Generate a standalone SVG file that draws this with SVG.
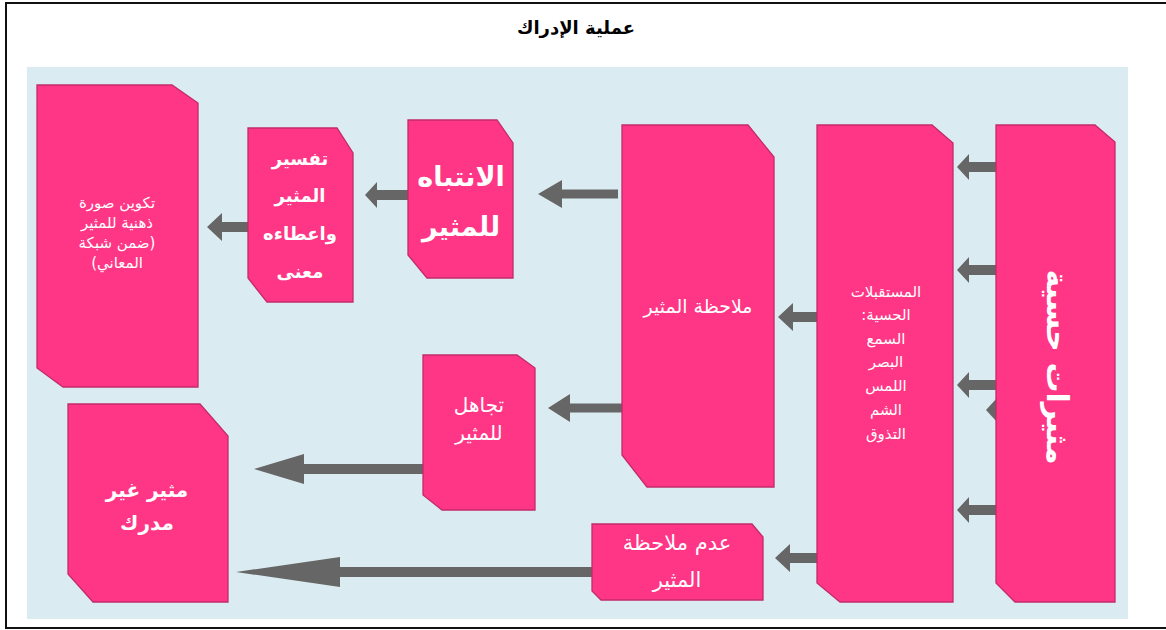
<svg xmlns="http://www.w3.org/2000/svg" width="1166" height="630" viewBox="0 0 1166 630">
<style>
.node{fill:#FF3585;stroke:#C42A6C;stroke-width:1.3}
.arr{fill:#666666}
.t{fill:#ffffff;font-family:"DejaVu Sans",sans-serif;text-anchor:middle;direction:rtl}
.b{font-weight:bold}
.title{fill:#000000;font-family:"DejaVu Sans",sans-serif;font-weight:bold;font-size:18px;text-anchor:middle;direction:rtl}
</style>
<rect x="0" y="0" width="1166" height="630" fill="#ffffff"/>
<path d="M6,629 L6,3 L1166,3 M6,628 L1166,628" fill="none" stroke="#111111" stroke-width="2"/>
<rect x="27" y="67" width="1101" height="552" fill="#DAECF2"/>
<text class="title" direction="rtl" x="576" y="34">عملية الإدراك</text>
<g id="connectors">
<polygon class="arr" points="986,410 997,398 997,422"/>
<polygon class="arr" points="957,167 969,154 969,162 996,162 996,172 969,172 969,180"/>
<polygon class="arr" points="957,270 969,257 969,265 996,265 996,275 969,275 969,283"/>
<polygon class="arr" points="957,385 969,372 969,380 996,380 996,390 969,390 969,398"/>
<polygon class="arr" points="957,510 969,497 969,505 996,505 996,515 969,515 969,523"/>
<polygon class="arr" points="778,317 793,303 793,312 817,312 817,322 793,322 793,331"/>
<polygon class="arr" points="775,558 790,544 790,553 817,553 817,563 790,563 790,572"/>
<polygon class="arr" points="538,194 562,180 562,189.5 618,189.5 618,198.5 562,198.5 562,208"/>
<polygon class="arr" points="548,408 570,394 570,403.5 622,403.5 622,412.5 570,412.5 570,422"/>
<polygon class="arr" points="365,195 377,182 377,190 408,190 408,200 377,200 377,208"/>
<polygon class="arr" points="207,227 222,213 222,222 248,222 248,232 222,232 222,241"/>
<polygon class="arr" points="254,469 304,454 304,464 423,464 423,474 304,474 304,484"/>
<polygon class="arr" points="236,572 340,557 340,567 592,567 592,577 340,577 340,587"/>
</g>
<g id="node-image">
<polygon class="node" points="37,85 172,85 198,103 198,387 63,387 37,368"/>
<text class="t" font-size="15" direction="rtl"><tspan x="117" y="208">تكوين صورة</tspan><tspan x="117" y="228">ذهنية للمثير</tspan><tspan x="117" y="248">(ضمن شبكة</tspan><tspan x="117" y="268">المعاني)</tspan></text>
</g>
<g id="node-interpret">
<polygon class="node" points="248,128 337,128 353,153 353,302 267,302 248,278"/>
<text class="t b" font-size="18" direction="rtl"><tspan x="300" y="165">تفسير</tspan><tspan x="300" y="202">المثير</tspan><tspan x="300" y="240">واعطاءه</tspan><tspan x="300" y="278">معنى</tspan></text>
</g>
<g id="node-attention">
<polygon class="node" points="408,120 497,120 513,143 513,278 427,278 408,255"/>
<text class="t b" font-size="27" direction="rtl"><tspan x="461" y="186">الانتباه</tspan><tspan x="461" y="236">للمثير</tspan></text>
</g>
<g id="node-observe">
<polygon class="node" points="622,125 748,125 774,157 774,487 647,487 622,455"/>
<text class="t" font-size="19" direction="rtl" x="698" y="313">ملاحظة المثير</text>
</g>
<g id="node-receptors">
<polygon class="node" points="817,125 932,125 953,143 953,602 840,602 817,583"/>
<text class="t" font-size="15" direction="rtl"><tspan x="886" y="297">المستقبلات</tspan><tspan x="886" y="320">الحسية:</tspan><tspan x="886" y="344">السمع</tspan><tspan x="886" y="367">البصر</tspan><tspan x="886" y="391">اللمس</tspan><tspan x="886" y="415">الشم</tspan><tspan x="886" y="439">التذوق</tspan></text>
</g>
<g id="node-stimuli">
<polygon class="node" points="996,125 1095,125 1115,142 1115,602 1015,602 996,583"/>
<text class="t b" font-size="30" direction="rtl" transform="translate(1057,367) rotate(90)" x="0" y="10">مثيرات حسية</text>
</g>
<g id="node-ignore">
<polygon class="node" points="423,355 517,355 535,368 535,510 442,510 423,495"/>
<text class="t" font-size="20" direction="rtl"><tspan x="479" y="412">تجاهل</tspan><tspan x="479" y="440">للمثير</tspan></text>
</g>
<g id="node-unperceived">
<polygon class="node" points="68,404 200,404 228,436 228,602 93,602 68,574"/>
<text class="t b" font-size="20" direction="rtl"><tspan x="147" y="497">مثير غير</tspan><tspan x="147" y="530">مدرك</tspan></text>
</g>
<g id="node-not-observe">
<polygon class="node" points="592,524 752,524 763,537 763,600 601,600 592,591"/>
<text class="t" font-size="21" direction="rtl"><tspan x="677" y="550">عدم ملاحظة</tspan><tspan x="677" y="587">المثير</tspan></text>
</g>
</svg>
